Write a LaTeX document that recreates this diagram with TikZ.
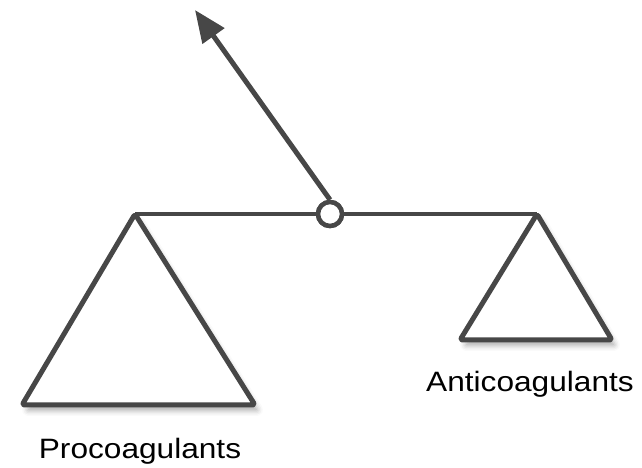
\documentclass[tikz,border=0pt]{standalone}
\usepackage{fontspec}
\setmainfont{Liberation Sans}
\usetikzlibrary{arrows.meta,shadows.blur}
\definecolor{scalegray}{HTML}{474747}
\begin{document}
\begin{tikzpicture}[x=1pt,y=1pt,
  beam/.style={draw=scalegray,line width=3.2pt},
  pan/.style={draw=scalegray,line width=5pt,fill=white,rounded corners=2.5pt,
    line join=round,blur shadow={shadow xshift=4pt,shadow yshift=-6pt,shadow opacity=30,shadow blur radius=5pt}},
  pivot/.style={circle,draw=scalegray,line width=4.5pt,fill=white,minimum size=24pt,inner sep=0pt},
  pointer/.style={draw=scalegray,line width=5pt,-{Triangle[length=32pt,width=26pt]}},
  panlabel/.style={font=\fontsize{28}{30}\selectfont,xscale=1.13}]
\useasboundingbox (0,0) rectangle (642,468);
% beam and pans
\coordinate (leftend) at (135,254);
\coordinate (rightend) at (537,254);
\draw[beam] (leftend) -- (rightend);
\draw[pan] (leftend) -- (255,63) -- (22,63) -- cycle;
\draw[pan] (rightend) -- (612,128) -- (460,128) -- cycle;
% pointer
\node[pivot] (fulcrum) at (330,254) {};
\coordinate (tip) at (195,458);
\draw[pointer] (fulcrum.north) -- (tip);
\node[pivot] at (fulcrum) {};
% labels
\node[panlabel] (pro) at (140,17) {Procoagulants};
\node[panlabel] (anti) at (530,84) {Anticoagulants};
\end{tikzpicture}
\end{document}
